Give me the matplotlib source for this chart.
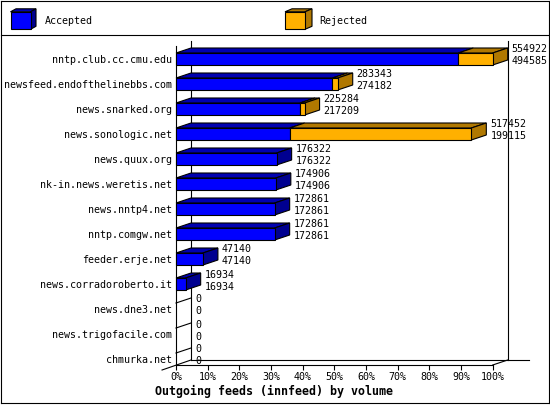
import matplotlib
matplotlib.use("Agg")
import matplotlib.pyplot as plt
from matplotlib.patches import Polygon, Rectangle
from matplotlib.lines import Line2D
import matplotlib.transforms as mtransforms
import numpy as np

# ---------------- data ----------------
categories = [
    "nntp.club.cc.cmu.edu",
    "newsfeed.endofthelinebbs.com",
    "news.snarked.org",
    "news.sonologic.net",
    "news.quux.org",
    "nk-in.news.weretis.net",
    "news.nntp4.net",
    "nntp.comgw.net",
    "feeder.erje.net",
    "news.corradoroberto.it",
    "news.dne3.net",
    "news.trigofacile.com",
    "chmurka.net",
]
total = [554922, 283343, 225284, 517452, 176322, 174906, 172861, 172861,
         47140, 16934, 0, 0, 0]
accepted = [494585, 274182, 217209, 199115, 176322, 174906, 172861, 172861,
            47140, 16934, 0, 0, 0]
rejected = [t - a for t, a in zip(total, accepted)]
xticks = list(range(0, 101, 10))
xtick_labels = [f"{t}%" for t in xticks]
legend_labels = ["Accepted", "Rejected"]
title = "Outgoing feeds (innfeed) by volume"

# ---------------- style ----------------
BLUE, BLUE_TOP, BLUE_SIDE = "#0000ff", "#0000b0", "#000090"
ORG, ORG_TOP, ORG_SIDE = "#ffb000", "#b07800", "#b07800"
MONO = "DejaVu Sans Mono"
FS = 7.2
LW = 0.8

W, H, DPI = 550, 405, 100
fig = plt.figure(figsize=(W / DPI, H / DPI), dpi=DPI)
fig.patch.set_facecolor("white")


def frac(x, y):
    return (x / W, 1 - y / H)


# front plane of the chart
ax = fig.add_axes([176 / W, 1 - 365 / H, (492.7 - 176) / W, (365 - 46) / H])
ax.set_xlim(0, 100)
ax.set_ylim(12.24, -0.52)
ax.patch.set_alpha(0)
for s in ("top", "right"):
    ax.spines[s].set_visible(False)
for s in ("left", "bottom"):
    ax.spines[s].set_linewidth(LW)
ax.set_xticks(xticks, xtick_labels)
ax.set_yticks(range(len(categories)), categories)
ax.tick_params(axis="x", direction="out", length=3.6, width=LW, pad=1.5,
               labelsize=FS)
ax.tick_params(axis="y", length=0, pad=2.9, labelsize=FS)
for lab in ax.get_xticklabels() + ax.get_yticklabels():
    lab.set_family(MONO)

# depth offset (15 px right, 5 px up) expressed via axes scales
DX_PX, DY_PX = 15, 5
back = ax.transData + mtransforms.ScaledTranslation(DX_PX / DPI, DY_PX / DPI,
                                                    fig.dpi_scale_trans)
p0 = ax.transData.transform((0, 0))
d = ax.transData.inverted().transform(p0 + np.array([DX_PX, DY_PX]))
dx, dy = d[0], d[1]

ylo, yhi = ax.get_ylim()[1], ax.get_ylim()[0]   # top (-0.52), bottom (12.24)
xmax = 100
# back wall / floor
ax.add_line(Line2D([0, 0], [ylo, yhi], color="black", lw=LW,
                   transform=back, clip_on=False, zorder=1))
ax.add_line(Line2D([xmax, xmax], [ylo, yhi], color="black", lw=LW,
                   transform=back, clip_on=False, zorder=1))
ax.add_line(Line2D([0, 106.7], [yhi, yhi], color="black", lw=LW,
                   transform=back, clip_on=False, zorder=1))
ax.add_line(Line2D([xmax, xmax + dx], [yhi, yhi + dy], color="black", lw=LW,
                   clip_on=False, zorder=1))
ax.add_line(Line2D([-dx * 0.93, dx], [yhi - dy, yhi + dy], color="black", lw=LW,
                   clip_on=False, zorder=1))

vmax = max(total)
acc_pct = np.array(accepted) / vmax * 100
tot_pct = np.array(total) / vmax * 100
BH = 0.48

lab_hi = mtransforms.offset_copy(ax.transData, fig, x=DX_PX + 4, y=3.5, units="dots")
lab_lo = mtransforms.offset_copy(ax.transData, fig, x=DX_PX + 4, y=-8.5, units="dots")

for i, (a, t) in enumerate(zip(acc_pct, tot_pct)):
    yt, yb = i - BH / 2, i + BH / 2
    z = 3 + i
    if t <= 0:
        ax.add_line(Line2D([0, dx], [yt, yt + dy], color="black", lw=LW,
                           clip_on=False, zorder=z))
    else:
        segs = [(0, a, BLUE, BLUE_TOP, BLUE_SIDE), (a, t, ORG, ORG_TOP, ORG_SIDE)]
        segs = [s for s in segs if s[1] - s[0] > 1e-9]
        for (l, r, cf, ct, cs) in segs:
            ax.add_patch(Polygon([(l, yt), (r, yt), (r + dx, yt + dy), (l + dx, yt + dy)],
                                 closed=True, facecolor=ct, edgecolor="black",
                                 lw=LW, clip_on=False, zorder=z))
        l, r, cf, ct, cs = segs[-1]
        ax.add_patch(Polygon([(r, yt), (r + dx, yt + dy), (r + dx, yb + dy), (r, yb)],
                             closed=True, facecolor=cs, edgecolor="black",
                             lw=LW, clip_on=False, zorder=z))
        for (l, r, cf, ct, cs) in segs:
            ax.barh(i, r - l, left=l, height=BH, color=cf, edgecolor="black",
                    lw=LW, clip_on=False, zorder=z + 0.5)
    ax.text(t, yt, str(total[i]), transform=lab_hi, ha="left", va="center",
            family=MONO, fontsize=FS, zorder=30)
    ax.text(t, yt, str(accepted[i]), transform=lab_lo, ha="left", va="center",
            family=MONO, fontsize=FS, zorder=30)

# ---------------- title ----------------
fig.text(*frac(155, 391.5), title, ha="left", va="center", family=MONO,
         fontsize=8.4, fontweight="bold")

# ---------------- legend ----------------
def cube(x0, y0, w, h, ddx, ddy, cf, ct, cs):
    pts_front = [frac(x0, y0), frac(x0 + w, y0), frac(x0 + w, y0 + h), frac(x0, y0 + h)]
    pts_top = [frac(x0, y0), frac(x0 + ddx, y0 - ddy), frac(x0 + w + ddx, y0 - ddy), frac(x0 + w, y0)]
    pts_side = [frac(x0 + w, y0), frac(x0 + w + ddx, y0 - ddy),
                frac(x0 + w + ddx, y0 + h - ddy), frac(x0 + w, y0 + h)]
    for pts, c in ((pts_top, ct), (pts_side, cs), (pts_front, cf)):
        fig.patches.append(Polygon(pts, closed=True, facecolor=c, edgecolor="black",
                                   lw=LW, transform=fig.transFigure, figure=fig))

cube(10.5, 11.8, 20, 17.5, 5.5, 3, BLUE, BLUE_TOP, BLUE_SIDE)
fig.text(*frac(44.5, 20.5), legend_labels[0], ha="left", va="center",
         family=MONO, fontsize=FS)
cube(285, 11.8, 20, 17.5, 7, 3, ORG, ORG_TOP, ORG_SIDE)
fig.text(*frac(319.5, 20.5), legend_labels[1], ha="left", va="center",
         family=MONO, fontsize=FS)

# ---------------- frame ----------------
for (xa, ya, xb, yb) in [(1, 1, 548.5, 1), (1, 403, 548.5, 403), (1, 1, 1, 403),
                         (548.5, 1, 548.5, 403), (1, 34.5, 548.5, 34.5)]:
    fig.add_artist(Line2D([xa / W, xb / W], [1 - ya / H, 1 - yb / H],
                          color="black", lw=LW, transform=fig.transFigure))

fig.savefig("out.png", dpi=DPI)
